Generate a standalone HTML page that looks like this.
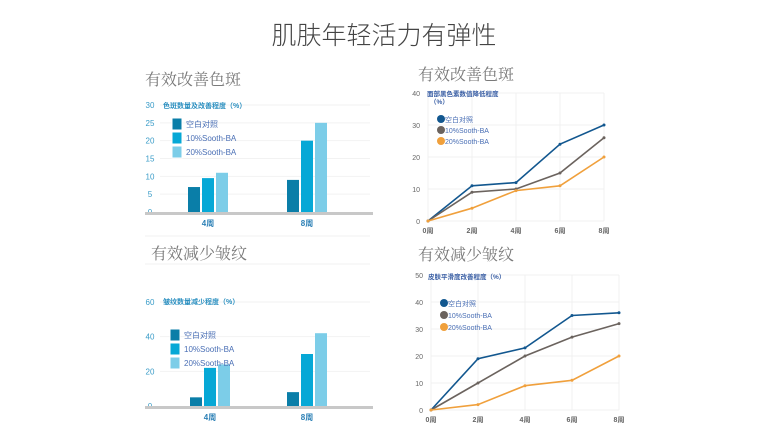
<!DOCTYPE html>
<html><head><meta charset="utf-8"><style>
body{margin:0;background:#fff;width:782px;height:441px;overflow:hidden}
svg{display:block}
text{font-family:"Liberation Sans","Noto Sans CJK SC",sans-serif}
.sec{font-family:"Liberation Serif","Noto Serif CJK SC",serif;font-size:16px;fill:#7a7a7a}
</style></head><body>
<svg id="s" width="782" height="441" xmlns="http://www.w3.org/2000/svg">
<text x="384" y="44" text-anchor="middle" font-size="25" fill="#444" style="font-family:'Liberation Sans','Noto Sans CJK SC',sans-serif;font-weight:300">肌肤年轻活力有弹性</text>
</svg>
<script>
const weeksBar=["4周","8周"];
const seriesNames=["空白对照","10%Sooth-BA","20%Sooth-BA"];
const spotBlank=[7,9];
const spot10=[9.5,20];
const spot20=[11,25];
const wrinkleBlank=[5,8];
const wrinkle10=[22,30];
const wrinkle20=[24,42];
const weeksLine=["0周","2周","4周","6周","8周"];
const melBlank=[0,11,12,24,30];
const mel10=[0,9,10,15,26];
const mel20=[0,4,9.5,11,20];
const smoothBlank=[0,19,23,35,36];
const smooth10=[0,10,20,27,32];
const smooth20=[0,2,9,11,20];
const spotTicks=[0,5,10,15,20,25,30];
const wrinkleTicks=[0,20,40,60];
const melTicks=[0,10,20,30,40];
const smoothTicks=[0,10,20,30,40,50];

const NS="http://www.w3.org/2000/svg";
const svg=document.getElementById('s');
function el(tag,attrs,parent){const e=document.createElementNS(NS,tag);for(const k in attrs)e.setAttribute(k,attrs[k]);(parent||svg).appendChild(e);return e;}
function txt(x,y,s,attrs,parent){const e=el('text',Object.assign({x:x,y:y},attrs),parent);e.textContent=s;return e;}

function sec(x,y,s,name){const t=txt(x,y,s,{class:'sec'});

}
sec(145,85,"有效改善色斑","section-title-spots-left");
sec(418,80,"有效改善色斑","section-title-spots-right");
sec(151,259,"有效减少皱纹","section-title-wrinkles-left");
sec(418,260,"有效减少皱纹","section-title-wrinkles-right");
el('line',{x1:145,y1:264,x2:370,y2:264,stroke:'#f0f0f0'});
el('line',{x1:145,y1:236,x2:370,y2:236,stroke:'#f0f0f0'});

const barColors=["#0a7ea8","#06a8d6","#7ccde8"];
function barChart(o){
  const g=el('g',{});
  
  
  const max=o.ticks[o.ticks.length-1];
  const y=v=>o.y0-(v/max)*(o.y0-o.yTop);
  o.ticks.forEach(t=>{
    if(t>0){const l=el('line',{x1:160,x2:370,y1:y(t),y2:y(t),stroke:'#f2f2f2'},g);}
    const tl=txt(150,y(t)+3,String(t),{'font-size':8,fill:'#3a9cc8','text-anchor':'middle'},g);
    
    
  });
  el('rect',{x:145,y:o.y0,width:228,height:3,fill:'#c8c8c8'},g);
  const data=[o.a,o.b,o.c];
  o.cats.forEach((c,i)=>{
    const cx=o.cx[i];
    data.forEach((d,j)=>{
      const r=el('rect',{x:cx-20+j*14,y:y(d[i]),width:12,height:o.y0-y(d[i]),fill:barColors[j]},g);
      
      
    });
    const cl=txt(cx,o.y0+14,c,{'font-size':8,'font-weight':'bold',fill:'#2a7fb5','text-anchor':'middle'},g);
    
    
  });
  const tt=txt(163,o.titleY,o.title,{'font-size':7,'font-weight':'bold',fill:'#2a8fc0'},g);
  
  
  seriesNames.forEach((s,j)=>{
    const ly=o.legY+j*14;
    const r=el('rect',{x:o.legX,y:ly,width:10,height:12,fill:barColors[j],stroke:'#fff'},g);
    
    
    const t=txt(o.legX+14,ly+9,s,{'font-size':8,fill:'#4a6fb5'},g);
    
    
  });
}
barChart({name:'spots-bar-chart',cats:weeksBar,a:spotBlank,b:spot10,c:spot20,ticks:spotTicks,y0:212,yTop:105,cx:[208,307],title:"色斑数量及改善程度（%）",titleY:108,legX:172,legY:118});
barChart({name:'wrinkles-bar-chart',cats:weeksBar,a:wrinkleBlank,b:wrinkle10,c:wrinkle20,ticks:wrinkleTicks,y0:406,yTop:302,cx:[210,307],title:"皱纹数量减少程度（%）",titleY:304,legX:170,legY:329});

const lineColors=["#12578f","#6b635e","#f0a03c"];
function lineChart(o){
  const g=el('g',{});
  
  
  const max=o.ticks[o.ticks.length-1];
  const y=v=>o.y0-(v/max)*(o.y0-o.yTop);
  const x=i=>o.x0+i*o.dx;
  o.ticks.forEach(t=>{
    el('line',{x1:o.x0,x2:x(o.cats.length-1),y1:y(t),y2:y(t),stroke:'#f0f0f0'},g);
    const tl=txt(o.x0-8,y(t)+3,String(t),{'font-size':7,fill:'#666','text-anchor':'end'},g);
    
    
  });
  o.cats.forEach((c,i)=>{
    el('line',{x1:x(i),x2:x(i),y1:o.yTop,y2:o.y0,stroke:'#f0f0f0'},g);
    const cl=txt(x(i),o.y0+12,c,{'font-size':7,'font-weight':'bold',fill:'#666','text-anchor':'middle'},g);
    
    
  });
  [o.a,o.b,o.c].forEach((d,j)=>{
    const p=el('polyline',{points:d.map((v,i)=>x(i)+','+y(v)).join(' '),fill:'none',stroke:lineColors[j],'stroke-width':1.6},g);
    
    
    d.forEach((v,i)=>{
      const c=el('circle',{cx:x(i),cy:y(v),r:1.5,fill:lineColors[j]},g);
      
      
    });
  });
  o.title.forEach((t,k)=>{
    const tt=txt(o.titleX+(k?3:0),o.titleY+k*8,t,{'font-size':6.5,'font-weight':'bold',fill:'#3a5fa5'},g);
    
    
  });
  seriesNames.forEach((s,j)=>{
    const ly=o.legY+j*o.legDy;
    const c=el('circle',{cx:o.legX,cy:ly,r:4,fill:lineColors[j]},g);
    
    
    const t=txt(o.legX+4,ly+3,s,{'font-size':7,fill:'#4a6fb5'},g);
    
    
  });
}
lineChart({name:'melanin-line-chart',cats:weeksLine,a:melBlank,b:mel10,c:mel20,ticks:melTicks,y0:221,yTop:93,x0:428,dx:44,title:["面部黑色素数值降低程度","（%）"],titleX:427,titleY:96,legX:441,legY:119,legDy:11});
lineChart({name:'smoothness-line-chart',cats:weeksLine,a:smoothBlank,b:smooth10,c:smooth20,ticks:smoothTicks,y0:410,yTop:275,x0:431,dx:47,title:["皮肤平滑度改善程度（%）"],titleX:428,titleY:279,legX:444,legY:303,legDy:12});
</script>
</body></html>
